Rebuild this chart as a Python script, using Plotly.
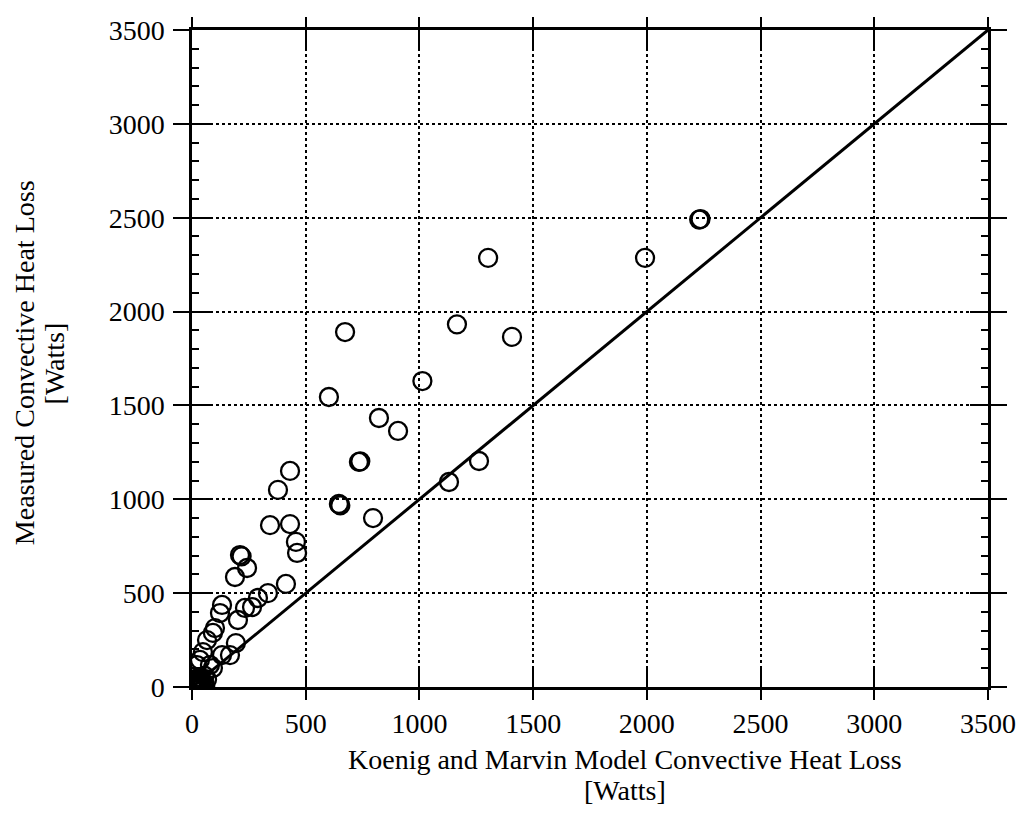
import plotly.graph_objects as go

# Model-predicted vs measured convective heat loss [W]
model_watts = [2230, 2236, 1992, 1302, 1165, 1407, 673, 1013, 602, 822, 906,
               734, 740, 1262, 1130, 646, 652, 796,
               431, 378, 343, 431, 457, 462, 211, 218, 242, 189, 413,
               334, 290, 264, 233, 132, 123, 202, 101, 92, 66, 193, 167, 132,
               48, 35, 79, 22, 35, 66, 92, 55,
               5, 12, 20, 28, 35, 40, 10, 25, 45, 15, 30, 8,
               3, 18, 38, 50, 22, 42, 58, 0]
measured_watts = [2490, 2493, 2286, 2286, 1932, 1865, 1891, 1630, 1545, 1433, 1364,
                  1199, 1202, 1204, 1092, 975, 968, 900,
                  1151, 1050, 862, 868, 773, 714, 703, 696, 634, 586, 549,
                  500, 474, 426, 421, 437, 394, 357, 314, 288, 250, 234, 170, 170,
                  186, 144, 117, 117, 53, 40, 101, 60,
                  5, 20, 8, 30, 12, 25, 40, 45, 5, 0, 15, 28,
                  12, 35, 3, 20, 2, 38, 10, 0]

# 1:1 agreement line
parity_x = [0, 3500]
parity_y = [0, 3500]

tick_vals = [0, 500, 1000, 1500, 2000, 2500, 3000, 3500]
tick_text = [str(v) for v in tick_vals]

x_title = ["Koenig and Marvin Model Convective Heat Loss", "[Watts]"]
y_title = ["Measured Convective Heat Loss", "[Watts]"]

font_family = "Liberation Serif"
tick_font = dict(family=font_family, size=28, color="black")
title_font = dict(family=font_family, size=28, color="black")

fig = go.Figure()

fig.add_trace(go.Scatter(
    x=model_watts, y=measured_watts, mode="markers",
    marker=dict(symbol="circle-open", size=18, color="black",
                line=dict(width=2.3, color="black")),
    showlegend=False, hoverinfo="x+y",
))

fig.add_trace(go.Scatter(
    x=parity_x, y=parity_y, mode="lines",
    line=dict(color="black", width=3),
    xaxis="x2", yaxis="y2", showlegend=False, hoverinfo="skip",
))

common = dict(
    range=[0, 3500], tickvals=tick_vals, ticktext=tick_text,
    showline=True, linecolor="black", linewidth=2.5,
    tickcolor="black", tickwidth=2, zeroline=False, automargin=False,
)

fig.update_layout(
    width=1023, height=816,
    paper_bgcolor="white", plot_bgcolor="white",
    margin=dict(l=192, r=35, t=30, b=129),
    font=dict(family=font_family, color="black"),
    xaxis=dict(
        **common,
        ticks="inside", ticklen=18, mirror="allticks",
        showgrid=True, gridcolor="black", gridwidth=1.5, griddash="dot",
        tickfont=tick_font, ticklabelstandoff=10,
    ),
    xaxis2=dict(
        **common,
        overlaying="x", matches="x", side="bottom",
        ticks="outside", ticklen=10, mirror="allticks",
        showgrid=False, showticklabels=False,
    ),
    yaxis=dict(
        **common,
        ticks="inside", ticklen=18, mirror="allticks",
        minor=dict(ticks="inside", ticklen=7, dtick=100, tickwidth=1.5,
                   tickcolor="black", showgrid=False),
        showgrid=True, gridcolor="black", gridwidth=1.5, griddash="dot",
        tickfont=tick_font, ticklabelstandoff=19,
    ),
    yaxis2=dict(
        **common,
        overlaying="y", matches="y", side="left",
        ticks="outside", ticklen=16, mirror="allticks",
        showgrid=False, showticklabels=False,
    ),
)

# Axis titles, one annotation per line for tight line spacing
for text, ypos in zip(x_title, [-0.11, -0.158]):
    fig.add_annotation(text=text, xref="paper", yref="paper", x=0.544, y=ypos,
                       xanchor="center", yanchor="middle", showarrow=False,
                       font=title_font)
for text, xpos in zip(y_title, [-0.211, -0.173]):
    fig.add_annotation(text=text, xref="paper", yref="paper", x=xpos, y=0.493,
                       xanchor="center", yanchor="middle", showarrow=False,
                       textangle=-90, font=title_font)

fig.write_html("out.html")
